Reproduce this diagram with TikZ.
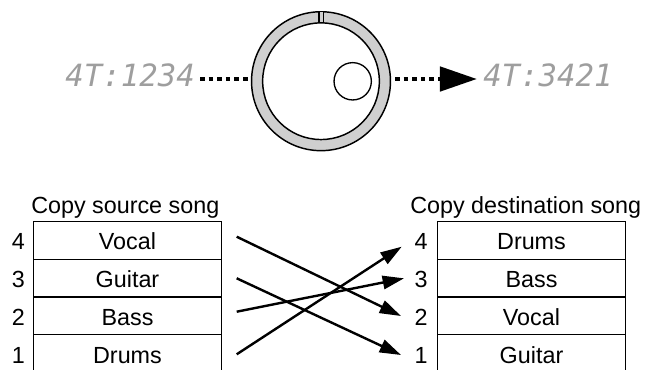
\documentclass[tikz,border=0pt]{standalone}
\usepackage{fontspec}
\setmainfont{Liberation Sans}
\newfontfamily\lcdfont{DejaVu Sans Mono}
\usetikzlibrary{arrows.meta}
\definecolor{ringgray}{gray}{0.81}
\definecolor{lcdgray}{gray}{0.62}
\begin{document}
\begin{tikzpicture}[x=0.75pt,y=-0.75pt,
  lcd/.style={font=\lcdfont\itshape\fontsize{23pt}{23pt}\selectfont, text=lcdgray, inner sep=0pt},
  lbl/.style={font=\fontsize{17.5pt}{17.5pt}\selectfont, inner sep=0pt, text height=14.2pt, text depth=0pt},
  cell/.style={lbl, draw, line width=0.9pt, minimum width=141.3pt, minimum height=28.3pt},
  title/.style={font=\fontsize{17.5pt}{17.5pt}\selectfont, inner sep=0pt, anchor=base west},
  dots/.style={line width=3.6pt, dash pattern=on 3.5pt off 2.95pt},
  link/.style={line width=1.8pt, -{Triangle[length=16pt,width=10pt]}}
]
\clip (0,0) rectangle (654,369);

% knob
\node[circle, draw, fill=ringgray, line width=1.1pt, minimum size=104.2pt, inner sep=0pt, outer sep=0pt] (knob) at (321,81.2) {};
\draw[fill=ringgray, line width=0.8pt] (319,11.7) rectangle (323.3,23.5);
\node[circle, draw, fill=white, line width=1.1pt, minimum size=87.5pt, inner sep=0pt, outer sep=0pt] (face) at (knob.center) {};
\node[circle, draw, fill=white, line width=1pt, minimum size=28pt, inner sep=0pt] (dial) at (352.7,81.3) {};

% lcd texts
\node[lcd, anchor=base east] (src) at (195,86) {4T:1234};
\node[lcd, anchor=base west] (dst) at (483,86) {4T:3421};

\coordinate (a1) at (200,79);
\coordinate (a2) at (251,79);
\coordinate (b1) at (395,79);
\coordinate (b2) at (477,79);
\draw[dots] (a1) -- (a2);
\draw[dots, -{Triangle[length=27.8pt,width=18pt]}] (b1) -- (b2);

% titles
\node[title] (stitle) at (31,213) {Copy source song};
\node[title] (dtitle) at (410,213) {Copy destination song};

% source table
\node[cell] (s4) at (127.5,240.5) {Vocal};
\node[cell] (s3) at (127.5,278.2) {Guitar};
\node[cell] (s2) at (127.5,315.9) {Bass};
\node[cell] (s1) at (127.5,353.6) {Drums};
\node[lbl] (sn4) at (18.3,240.5) {4};
\node[lbl] (sn3) at (18.3,278.2) {3};
\node[lbl] (sn2) at (18.3,315.9) {2};
\node[lbl] (sn1) at (18.3,353.6) {1};

% destination table
\node[cell] (d4) at (531.5,240.5) {Drums};
\node[cell] (d3) at (531.5,278.2) {Bass};
\node[cell] (d2) at (531.5,315.9) {Vocal};
\node[cell] (d1) at (531.5,353.6) {Guitar};
\node[lbl] (dn4) at (421,240.5) {4};
\node[lbl] (dn3) at (421,278.2) {3};
\node[lbl] (dn2) at (421,315.9) {2};
\node[lbl] (dn1) at (421,353.6) {1};

% links
\coordinate (p4) at (236.7,236.7);
\coordinate (p3) at (236.7,278.3);
\coordinate (p2) at (236.7,311.7);
\coordinate (p1) at (236.7,354.3);
\coordinate (q4) at (401.7,246.7);
\coordinate (q3) at (404,278.3);
\coordinate (q2) at (401,316);
\coordinate (q1) at (401,355);
\draw[link] (p4) -- (q2);
\draw[link] (p3) -- (q1);
\draw[link] (p2) -- (q3);
\draw[link] (p1) -- (q4);
\end{tikzpicture}
\end{document}
